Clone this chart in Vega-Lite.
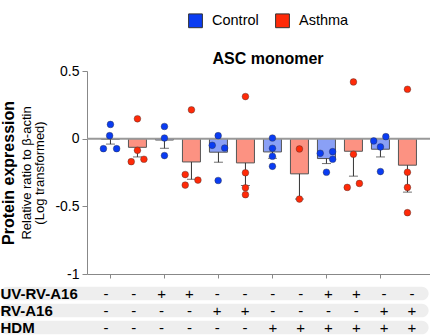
{
  "$schema": "https://vega.github.io/schema/vega-lite/v6.json",
  "padding": {"left": 0, "top": 13, "right": 0, "bottom": 0},
  "config": {
    "font": "Liberation Sans",
    "view": {"stroke": null},
    "axis": {"grid": false, "domainColor": "#888", "tickColor": "#888", "labelColor": "#000", "titleColor": "#000"}
  },
  "resolve": {"legend": {"color": "independent"}},
  "datasets": {
    "bars": [
      {"pos": 1, "cohort": "Control", "mean": -0.005, "lo": -0.04},
      {"pos": 2, "cohort": "Asthma", "mean": -0.064, "lo": -0.135},
      {"pos": 3, "cohort": "Control", "mean": -0.01, "lo": -0.071},
      {"pos": 4, "cohort": "Asthma", "mean": -0.172, "lo": -0.3},
      {"pos": 5, "cohort": "Control", "mean": -0.1, "lo": -0.174},
      {"pos": 6, "cohort": "Asthma", "mean": -0.179, "lo": -0.346},
      {"pos": 7, "cohort": "Control", "mean": -0.098, "lo": -0.145},
      {"pos": 8, "cohort": "Asthma", "mean": -0.26, "lo": -0.446},
      {"pos": 9, "cohort": "Control", "mean": -0.147, "lo": -0.184},
      {"pos": 10, "cohort": "Asthma", "mean": -0.093, "lo": -0.277},
      {"pos": 11, "cohort": "Control", "mean": -0.078, "lo": -0.135},
      {"pos": 12, "cohort": "Asthma", "mean": -0.196, "lo": -0.395}
    ],
    "points": [
      {"x": 1.0, "group": "Control", "value": 0.105},
      {"x": 0.97, "group": "Control", "value": 0.022},
      {"x": 0.74, "group": "Control", "value": -0.074},
      {"x": 1.23, "group": "Control", "value": -0.074},
      {"x": 2.0, "group": "Asthma", "value": 0.147},
      {"x": 2.0, "group": "Asthma", "value": -0.086},
      {"x": 1.77, "group": "Asthma", "value": -0.17},
      {"x": 2.24, "group": "Asthma", "value": -0.152},
      {"x": 3.0, "group": "Control", "value": 0.09},
      {"x": 3.0, "group": "Control", "value": 0.005},
      {"x": 3.0, "group": "Control", "value": -0.125},
      {"x": 4.0, "group": "Asthma", "value": 0.213},
      {"x": 3.77, "group": "Asthma", "value": -0.265},
      {"x": 4.24, "group": "Asthma", "value": -0.306},
      {"x": 3.77, "group": "Asthma", "value": -0.343},
      {"x": 4.99, "group": "Control", "value": 0.022},
      {"x": 5.23, "group": "Control", "value": -0.069},
      {"x": 4.77, "group": "Control", "value": -0.049},
      {"x": 4.99, "group": "Control", "value": -0.309},
      {"x": 6.0, "group": "Asthma", "value": 0.311},
      {"x": 6.0, "group": "Asthma", "value": -0.252},
      {"x": 6.0, "group": "Asthma", "value": -0.363},
      {"x": 6.0, "group": "Asthma", "value": -0.414},
      {"x": 7.0, "group": "Control", "value": 0.005},
      {"x": 7.0, "group": "Control", "value": -0.071},
      {"x": 7.0, "group": "Control", "value": -0.13},
      {"x": 7.0, "group": "Control", "value": -0.204},
      {"x": 8.0, "group": "Asthma", "value": -0.076},
      {"x": 8.0, "group": "Asthma", "value": -0.446},
      {"x": 8.77, "group": "Control", "value": -0.108},
      {"x": 9.23, "group": "Control", "value": -0.096},
      {"x": 9.23, "group": "Control", "value": -0.152},
      {"x": 9.0, "group": "Control", "value": -0.248},
      {"x": 10.0, "group": "Asthma", "value": 0.419},
      {"x": 10.0, "group": "Asthma", "value": -0.115},
      {"x": 9.77, "group": "Asthma", "value": -0.36},
      {"x": 10.22, "group": "Asthma", "value": -0.331},
      {"x": 10.75, "group": "Control", "value": -0.017},
      {"x": 11.2, "group": "Control", "value": 0.015},
      {"x": 11.0, "group": "Control", "value": -0.061},
      {"x": 11.0, "group": "Control", "value": -0.243},
      {"x": 12.0, "group": "Asthma", "value": 0.365},
      {"x": 12.0, "group": "Asthma", "value": -0.248},
      {"x": 12.0, "group": "Asthma", "value": -0.36},
      {"x": 12.0, "group": "Asthma", "value": -0.547}
    ],
    "rows": [
      {"row": "UV-RV-A16"}, {"row": "RV-A16"}, {"row": "HDM"}
    ],
    "table": [
      {"cond": 1, "row": "UV-RV-A16", "sign": "-"}, {"cond": 2, "row": "UV-RV-A16", "sign": "-"},
      {"cond": 3, "row": "UV-RV-A16", "sign": "+"}, {"cond": 4, "row": "UV-RV-A16", "sign": "+"},
      {"cond": 5, "row": "UV-RV-A16", "sign": "-"}, {"cond": 6, "row": "UV-RV-A16", "sign": "-"},
      {"cond": 7, "row": "UV-RV-A16", "sign": "-"}, {"cond": 8, "row": "UV-RV-A16", "sign": "-"},
      {"cond": 9, "row": "UV-RV-A16", "sign": "+"}, {"cond": 10, "row": "UV-RV-A16", "sign": "+"},
      {"cond": 11, "row": "UV-RV-A16", "sign": "-"}, {"cond": 12, "row": "UV-RV-A16", "sign": "-"},
      {"cond": 1, "row": "RV-A16", "sign": "-"}, {"cond": 2, "row": "RV-A16", "sign": "-"},
      {"cond": 3, "row": "RV-A16", "sign": "-"}, {"cond": 4, "row": "RV-A16", "sign": "-"},
      {"cond": 5, "row": "RV-A16", "sign": "+"}, {"cond": 6, "row": "RV-A16", "sign": "+"},
      {"cond": 7, "row": "RV-A16", "sign": "-"}, {"cond": 8, "row": "RV-A16", "sign": "-"},
      {"cond": 9, "row": "RV-A16", "sign": "-"}, {"cond": 10, "row": "RV-A16", "sign": "-"},
      {"cond": 11, "row": "RV-A16", "sign": "+"}, {"cond": 12, "row": "RV-A16", "sign": "+"},
      {"cond": 1, "row": "HDM", "sign": "-"}, {"cond": 2, "row": "HDM", "sign": "-"},
      {"cond": 3, "row": "HDM", "sign": "-"}, {"cond": 4, "row": "HDM", "sign": "-"},
      {"cond": 5, "row": "HDM", "sign": "-"}, {"cond": 6, "row": "HDM", "sign": "-"},
      {"cond": 7, "row": "HDM", "sign": "+"}, {"cond": 8, "row": "HDM", "sign": "+"},
      {"cond": 9, "row": "HDM", "sign": "+"}, {"cond": 10, "row": "HDM", "sign": "+"},
      {"cond": 11, "row": "HDM", "sign": "+"}, {"cond": 12, "row": "HDM", "sign": "+"}
    ]
  },
  "spacing": 4,
  "vconcat": [
    {
      "width": 343,
      "height": 203,
      "layer": [
        {
          "layer": [
            {
              "data": {"name": "bars"},
              "mark": {"type": "bar", "size": 18, "stroke": "#555", "strokeWidth": 1},
              "encoding": {
                "x": {"field": "pos", "type": "quantitative", "scale": {"domain": [0.317, 12.65], "nice": false, "zero": false},
                      "axis": {"title": null, "labels": false, "values": [1,2,3,4,5,6,7,8,9,10,11,12], "tickSize": 4}},
                "y": {"field": "mean", "type": "quantitative", "scale": {"domain": [-1, 0.5], "nice": false},
                      "axis": {"title": ["Relative ratio to β-actin", "(Log transformed)"], "titleFontSize": 13, "titleFontWeight": "normal",
                               "titlePadding": 8, "titleLineHeight": 13, "labelFontSize": 14, "tickSize": 5, "labelPadding": 3,
                               "values": [-1, -0.5, 0, 0.5], "labelExpr": "toString(datum.value)"}},
                "fill": {"field": "cohort", "type": "nominal", "scale": {"domain": ["Asthma", "Control"], "range": ["#fc9282", "#8aa0f6"]}, "legend": null}
              }
            },
            {
              "data": {"values": [{}]},
              "mark": {"type": "rule", "color": "#999", "strokeWidth": 2},
              "encoding": {"y": {"datum": 0, "type": "quantitative"}}
            },
            {
              "data": {"name": "bars"},
              "mark": {"type": "rule", "color": "#333", "strokeWidth": 1},
              "encoding": {
                "x": {"field": "pos", "type": "quantitative"},
                "y": {"field": "mean", "type": "quantitative"},
                "y2": {"field": "lo"}
              }
            },
            {
              "data": {"name": "bars"},
              "mark": {"type": "tick", "orient": "horizontal", "size": 9, "thickness": 1, "color": "#333"},
              "encoding": {
                "x": {"field": "pos", "type": "quantitative"},
                "y": {"field": "lo", "type": "quantitative"}
              }
            },
            {
              "data": {"name": "points"},
              "mark": {"type": "point", "filled": true, "size": 45, "opacity": 1, "stroke": "#333", "strokeWidth": 0.4},
              "encoding": {
                "x": {"field": "x", "type": "quantitative"},
                "y": {"field": "value", "type": "quantitative"},
                "color": {"field": "group", "type": "nominal", "scale": {"domain": ["Control", "Asthma"], "range": ["#0a3cf2", "#ff2a08"]},
                          "legend": {"orient": "none", "legendX": 101, "legendY": -58, "direction": "horizontal",
                                     "title": "ASC monomer", "titleOrient": "bottom", "titleAnchor": "middle", "titleFontSize": 16,
                                     "titleFontWeight": "bold", "titleColor": "#000", "titlePadding": 21, "titleLimit": 300,
                                     "symbolType": "square", "symbolSize": 190, "symbolStrokeColor": "#333", "symbolStrokeWidth": 1,
                                     "labelFontSize": 14.5, "labelOffset": 9, "columnPadding": 14, "symbolOpacity": 1, "labelColor": "#000"}}
              }
            }
          ]
        },
        {
          "data": {"values": [{}]},
          "mark": {"type": "rule", "opacity": 0},
          "encoding": {
            "y": {"datum": 0, "type": "quantitative", "scale": {"domain": [-1, 0.5], "nice": false},
                  "axis": {"orient": "left", "title": "Protein expression", "titleFontSize": 16, "titleFontWeight": "bold",
                           "labels": false, "ticks": false, "domain": false, "titlePadding": 71}}
          }
        }
      ],
      "resolve": {"scale": {"y": "independent"}}
    },
    {
      "width": 343,
      "height": 51,
      "layer": [
        {
          "data": {"name": "rows"},
          "mark": {"type": "rect", "cornerRadius": 7, "color": "#eeeeee"},
          "encoding": {
            "y": {"field": "row", "type": "nominal", "sort": ["UV-RV-A16", "RV-A16", "HDM"],
                  "scale": {"paddingInner": 0.2, "paddingOuter": 0.1},
                  "axis": {"orient": "left", "title": null, "domain": false, "ticks": false, "tickSize": 0, "labelAlign": "left",
                           "labelPadding": 87, "labelFontSize": 15, "labelFontWeight": "bold", "labelColor": "#000"}},
            "x": {"datum": -2.8, "type": "quantitative", "scale": {"domain": [0.317, 12.65], "nice": false, "zero": false}, "axis": null},
            "x2": {"datum": 12.6}
          }
        },
        {
          "data": {"name": "table"},
          "mark": {"type": "text", "fontSize": 15, "color": "#000"},
          "encoding": {
            "x": {"field": "cond", "type": "quantitative"},
            "y": {"field": "row", "type": "nominal", "sort": ["UV-RV-A16", "RV-A16", "HDM"]},
            "text": {"field": "sign"}
          }
        }
      ]
    }
  ]
}
